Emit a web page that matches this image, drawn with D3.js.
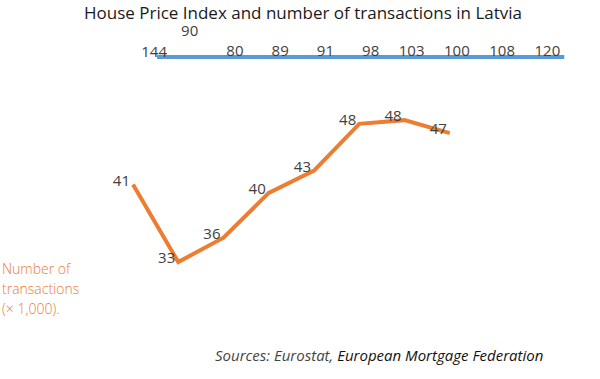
<!DOCTYPE html>
<html>
<head>
<meta charset="utf-8">
<script src="https://cdn.jsdelivr.net/npm/d3@7"></script>
<style>
  body { margin: 0; background: #fff; }
  svg { display: block; font-family: "Open Sans", "Noto Sans", sans-serif; }
</style>
</head>
<body>
<svg width="600" height="379"></svg>
<script>
// house price index (blue) and number of transactions x1000 (orange)
const hpiValues = [144, 90, 80, 89, 91, 98, 103, 100, 108, 120];
const txValues = [41.3, 33.0, 35.6, 40.4, 42.8, 47.8, 48.2, 46.8];

const svg = d3.select('svg');
const blue = '#5B9BD5', orange = '#ED7D31', grey = '#404040';

// shared category scale (one step per period)
const x = d3.scaleLinear().domain([0, 9]).range([133, 540.3]);
const hpiShift = 0.53;

// index series is drawn flat on its own band
const yHpi = d3.scaleLinear().domain([0, 200]).range([57, 57]);
const yTx = d3.scaleLinear().domain([33, 48]).range([262, 122]);

// title
svg.append('text')
  .attr('x', 303).attr('y', 19)
  .attr('text-anchor', 'middle')
  .style('font-size', '17px')
  .attr('fill', '#1a1a1a')
  .text('House Price Index and number of transactions in Latvia');

// blue line
const hpiLine = d3.line()
  .x((d, i) => x(i + hpiShift))
  .y(d => yHpi(d));

svg.append('path')
  .datum(hpiValues)
  .attr('d', hpiLine)
  .attr('fill', 'none')
  .attr('stroke', blue)
  .attr('stroke-width', 4);

// label nudges for the first two index labels
const nudge = {0: [14, 1], 1: [0, -20]};
svg.append('g')
  .selectAll('text')
  .data(hpiValues)
  .enter()
  .append('text')
    .attr('x', (d, i) => x(i + hpiShift) - 4 + (nudge[i] ? nudge[i][0] : 0))
    .attr('y', (d, i) => yHpi(d) - 1 + (nudge[i] ? nudge[i][1] : 0))
    .attr('text-anchor', 'end')
    .style('font-size', '15px')
    .attr('fill', grey)
    .text(d => d);

// orange line
const txLine = d3.line()
  .x((d, i) => x(i))
  .y(d => yTx(d));

svg.append('path')
  .datum(txValues)
  .attr('d', txLine)
  .attr('fill', 'none')
  .attr('stroke', orange)
  .attr('stroke-width', 4);

svg.append('g')
  .selectAll('text')
  .data(txValues)
  .enter()
  .append('text')
    .attr('x', (d, i) => x(i) - 3)
    .attr('y', d => yTx(d) + 1)
    .attr('text-anchor', 'end')
    .style('font-size', '15px')
    .attr('fill', grey)
    .text(d => d3.format('.0f')(d));

// series note
const note = svg.append('text')
  .attr('x', 2).attr('y', 274)
  .style('font-size', '14px')
  .style('font-weight', 300)
  .attr('fill', orange);
['Number of', 'transactions', '(\u00d7 1,000).'].forEach((t, i) => {
  note.append('tspan').attr('x', 2).attr('dy', i ? 20 : 0).text(t);
});

// sources
const src = svg.append('text')
  .attr('x', 215).attr('y', 361)
  .style('font-size', '15px')
  .style('font-style', 'italic')
  .attr('fill', '#444');
src.append('tspan').text('Sources: Eurostat, ');
src.append('tspan').attr('fill', '#111').text('European Mortgage Federation');
</script>
</body>
</html>
